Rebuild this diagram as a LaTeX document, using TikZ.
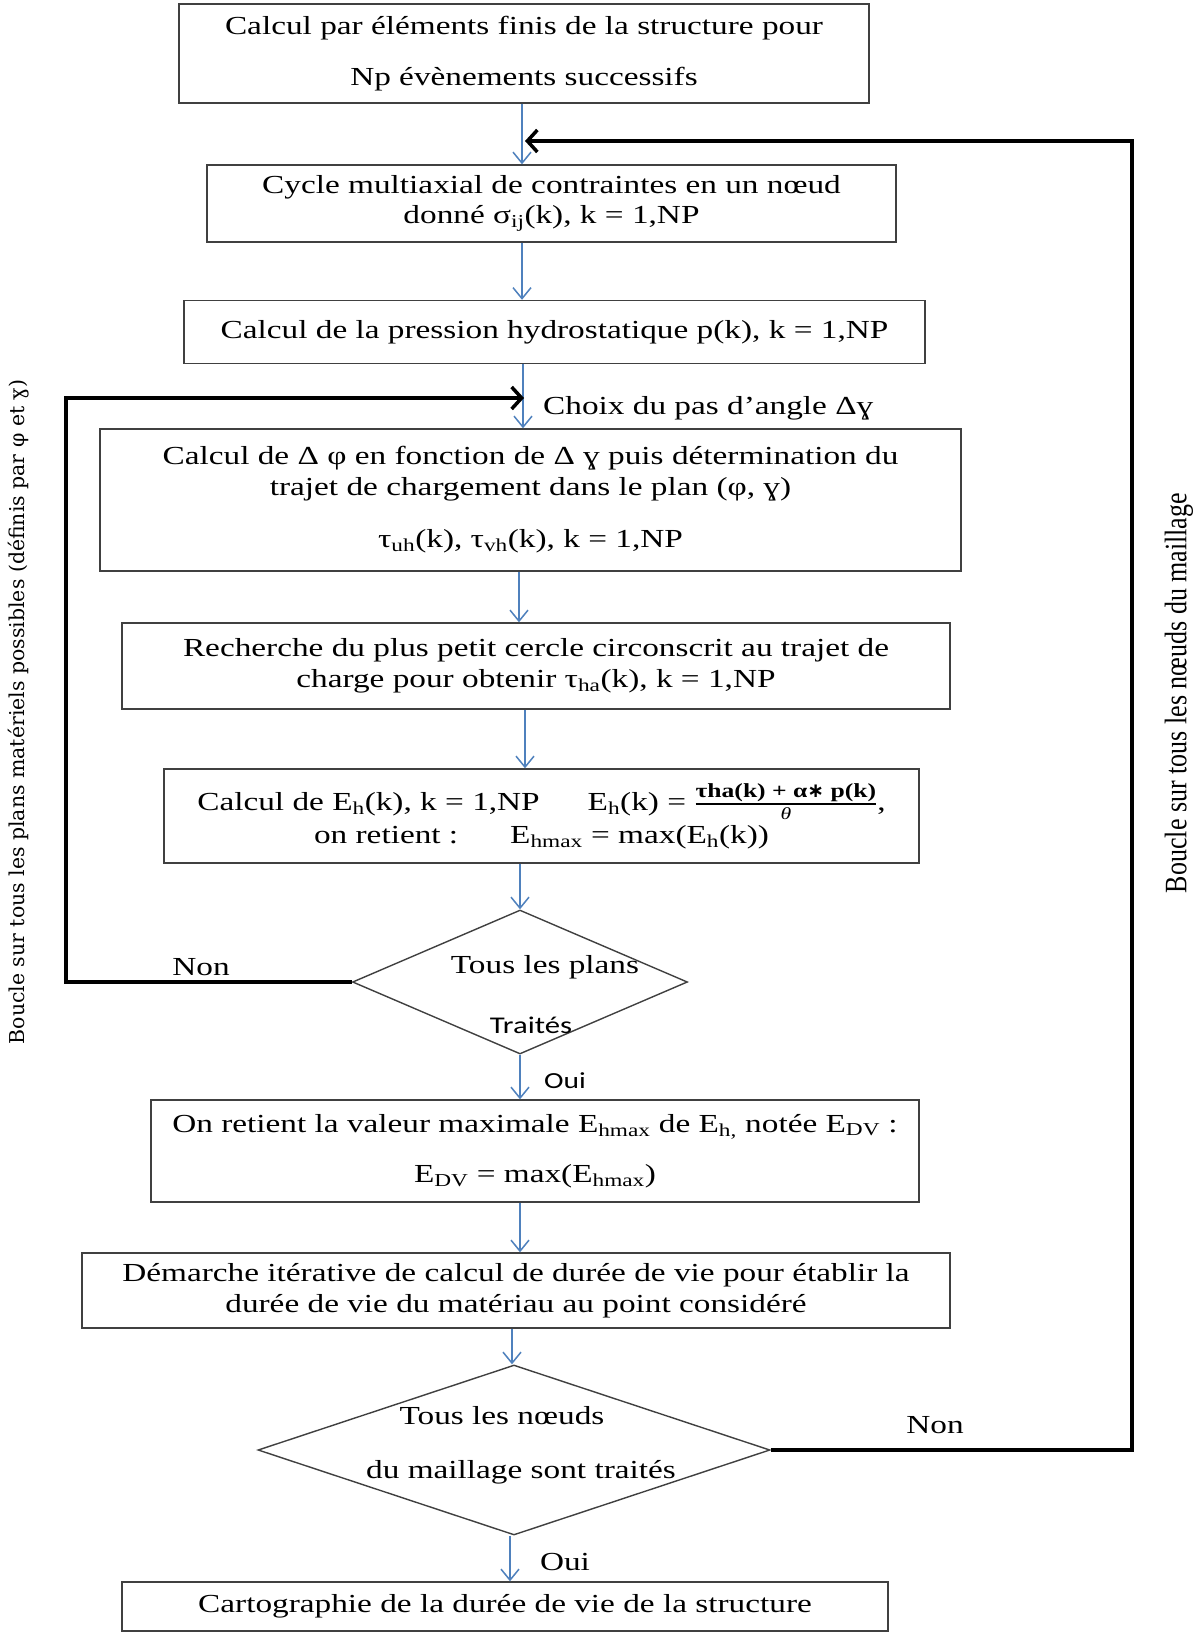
\documentclass[tikz,border=0pt]{standalone}
\usepackage{fontspec}
\usepackage{amsmath}
\usepackage{graphicx}
\setmainfont{Liberation Serif}[FakeStretch=1.28]
\newfontfamily\calfont{Carlito}[FakeStretch=1.28]
\newfontfamily\rotserif{DejaVu Serif}[FakeStretch=1.15]
\newfontfamily\plainserif{Liberation Serif}
\newfontfamily\djs{DejaVu Sans}
\usetikzlibrary{arrows.meta,shapes.geometric}
\definecolor{arrblue}{RGB}{79,129,189}
\definecolor{boxc}{RGB}{64,64,64}
\newcommand{\mainsz}{\fontsize{26}{30.5}\selectfont}
\newcommand{\sbs}[1]{\textsubscript{#1}}
\tikzset{
  box/.style={draw=boxc, line width=1.4pt, inner sep=0pt, align=center, font=\mainsz},
  flow/.style={draw=arrblue, line width=1.5pt, -{Straight Barb[length=11pt,width=18pt]}},
  loopar/.style={draw=black, line width=3.5pt, -{Straight Barb[length=10pt,width=22pt]}},
  dia/.style={diamond, draw=boxc, line width=1.4pt, inner sep=0pt},
  lbl/.style={inner sep=0pt, font=\mainsz}
}
\begin{document}
\begin{tikzpicture}[x=1pt,y=-1pt]
\fill[white] (0,0) rectangle (1200,1633);
\useasboundingbox (0,0) rectangle (1200,1633);

% boxes
\node[box, minimum width=690pt, minimum height=99pt] (b1) at (524,53.5)
  {Calcul par éléments finis de la structure pour\\[21pt]Np évènements successifs};
\node[box, minimum width=689pt, minimum height=77pt] (b2) at (551.5,203.5)
  {Cycle multiaxial de contraintes en un nœud\\donné σ\sbs{ij}(k), k = 1,NP};
\node[box, minimum width=741pt, minimum height=63pt] (b3) at (554.5,332)
  {Calcul de la pression hydrostatique p(k), k = 1,NP};
\node[box, minimum width=861pt, minimum height=142pt] (b4) at (530.5,500)
  {Calcul de Δ φ en fonction de Δ ɣ puis détermination du\\trajet de chargement dans le plan (φ, ɣ)\\[22pt]τ\sbs{uh}(k), τ\sbs{vh}(k), k = 1,NP};
\node[box, minimum width=828pt, minimum height=86pt] (b5) at (536,666)
  {Recherche du plus petit cercle circonscrit au trajet de\\charge pour obtenir τ\sbs{ha}(k), k = 1,NP};
\node[box, minimum width=755pt, minimum height=94pt] (b6) at (541.5,816)
  {Calcul de E\sbs{h}(k), k = 1,NP\hspace{48pt}E\sbs{h}(k) = $\genfrac{}{}{1.8pt}{}{\hbox{\fontsize{20}{20}\selectfont\bfseries τha(k) + α{\djs ∗} p(k)}}{\hbox{\fontsize{17}{17}\selectfont\itshape θ}}$,\\[2pt]
   on retient :\hspace{52pt}E\sbs{hmax} = max(E\sbs{h}(k))};
\node[box, minimum width=768pt, minimum height=102pt] (b7) at (535,1151)
  {On retient la valeur maximale E\sbs{hmax} de E\sbs{h,} notée E\sbs{DV} :\\[20pt]E\sbs{DV} = max(E\sbs{hmax})};
\node[box, minimum width=868pt, minimum height=75pt] (b8) at (516,1290.5)
  {Démarche itérative de calcul de durée de vie pour établir la\\durée de vie du matériau au point considéré};
\node[box, minimum width=766pt, minimum height=49pt] (b9) at (505,1606.5)
  {Cartographie de la durée de vie de la structure};

% decisions
\node[dia, minimum width=335pt, minimum height=144pt] (d1) at (520,982) {};
\node[dia, minimum width=512pt, minimum height=170pt] (d2) at (514,1450) {};

% texts in decisions and labels
\node[lbl] (t1a) at (545,967) {Tous les plans};
\node[lbl, font=\calfont\fontsize{24}{28}\selectfont] (t1b) at (531,1025) {Traités};
\node[lbl] (t2a) at (502,1416) {Tous les nœuds};
\node[lbl] (t2b) at (521,1472) {du maillage sont traités};
\node[lbl] (non1) at (201,967) {Non};
\node[lbl] (non2) at (935,1425) {Non};
\node[lbl, font=\calfont\fontsize{23}{27}\selectfont] (oui1) at (565,1081) {Oui};
\node[lbl] (oui2) at (565,1562) {Oui};
\node[lbl, anchor=west] (choix) at (543,408) {Choix du pas d’angle Δɣ};
\node[inner sep=0pt, rotate=90] (lrot) at (19,712)
  {\scalebox{1}[1.15]{\rotserif\fontsize{17.8}{22}\selectfont Boucle sur tous les plans matériels possibles (définis par φ et ɣ)}};
\node[inner sep=0pt, rotate=90] (rrot) at (1179,693)
  {\scalebox{1}[1.2]{\plainserif\fontsize{26}{30}\selectfont Boucle sur tous les nœuds du maillage}};

% x positions of the flow arrows
\coordinate (x1) at (522,0);
\coordinate (x3) at (523,0);
\coordinate (x4) at (519,0);
\coordinate (x5) at (525,0);
\coordinate (x6) at (520,0);
\coordinate (x9) at (512,0);
\coordinate (x10) at (510,0);
\coordinate (lx) at (66,0);
\coordinate (rx) at (1132,0);
\coordinate (ltip) at (524,398);
\coordinate (rtip) at (525,141);

% flow arrows
\draw[flow] (b1.south -| x1) -- (b2.north -| x1);
\draw[flow] (b2.south -| x1) -- (b3.north -| x1);
\draw[flow] (b3.south -| x3) -- (b4.north -| x3);
\draw[flow] (b4.south -| x4) -- (b5.north -| x4);
\draw[flow] (b5.south -| x5) -- (b6.north -| x5);
\draw[flow] (b6.south -| x6) -- (d1.north);
\draw[flow] (d1.south) -- (b7.north -| x6);
\draw[flow] (b7.south -| x6) -- (b8.north -| x6);
\draw[flow] (b8.south -| x9) -- (d2.north -| x9);
\draw[flow] (d2.south -| x10) -- (b9.north -| x10);

% loops
\draw[loopar] (d1.west) -- (d1.west -| lx) |- (ltip);
\draw[loopar] (d2.east) -- (d2.east -| rx) |- (rtip);
\end{tikzpicture}
\end{document}
